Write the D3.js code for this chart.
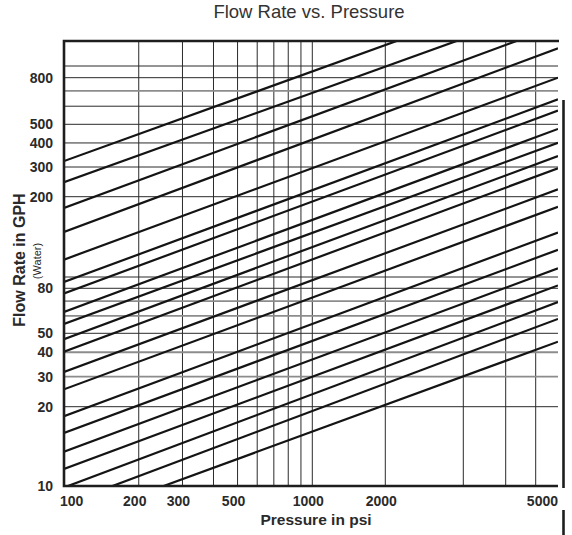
<!DOCTYPE html>
<html>
<head>
<meta charset="utf-8">
<script src="https://cdn.jsdelivr.net/npm/d3@7"></script>
<style>
    body { margin: 0; background: #fff; }
    svg { display: block; font-family: Arial, "Liberation Sans", sans-serif; }
    .tick-label { font-weight: bold; font-size: 14px; fill: #2a2a2a; }
</style>
</head>
<body>
<script>
// flow (GPH) of each curve read at the left edge (100 psi) and at the right edge (6000 psi)
var flow_at_100 = [322, 244, 179, 141, 107, 85.4, 75.8, 62.5, 55.1, 46.7, 40.3, 31.7,
                   25.3, 18.4, 15.9, 13.5, 11.6, 9.87, 8.53, 7.27];
var flow_at_6000 = [2262, 1777, 1406, 1095, 800, 643, 574, 473, 401, 342, 295, 221,
                    181, 140, 118, 98.1, 82.4, 69.3, 58.1, 45.3];

var x_grid = [200, 300, 400, 500, 600, 700, 800, 900, 1000, 2000, 3000, 4000, 5000];
var y_grid_dark = [20, 50, 80, 90, 200, 300, 400, 500, 600, 800, 900];
var y_grid_gray = [30, 40, 60, 70, 700];

var x_ticks = [100, 200, 300, 500, 1000, 2000, 5000];
var y_ticks = [10, 20, 30, 40, 50, 80, 200, 300, 400, 500, 800];

var width = 572, height = 535;
// note: "top" is taken by window.top, so the box edges get a prefix
var box_left = 64, box_right = 558, box_top = 41, box_bottom = 486;

// the printed chart is only roughly logarithmic, so the scales are piecewise on log10
var x_log = d3.scaleLinear()
    .domain([100, 1000, 2000, 3000, 4000, 5000, 6000].map(Math.log10))
    .range([box_left, 312.3, 385.3, 463.3, 505.7, 535.7, box_right]);
var y_log = d3.scaleLinear()
    .domain([10, 20, 30, 50, 90, 200, 300, 500, 900, 1200].map(Math.log10))
    .range([box_bottom, 406.7, 376.7, 333.3, 277, 196.7, 167, 124.3, 66, box_top - 1]);
function x(v) { return x_log(Math.log10(v)); }
function y(v) { return y_log(Math.log10(v)); }

var svg = d3.select("body").append("svg")
    .attr("width", width)
    .attr("height", height);

svg.append("defs").append("clipPath").attr("id", "plot-clip")
    .append("rect")
    .attr("x", box_left).attr("y", box_top)
    .attr("width", box_right - box_left).attr("height", box_bottom - box_top);

// grid
svg.append("g").selectAll("line").data(x_grid).enter().append("line")
    .attr("x1", function(d) { return x(d); })
    .attr("x2", function(d) { return x(d); })
    .attr("y1", box_top).attr("y2", box_bottom)
    .attr("stroke", "#2b2b2b").attr("stroke-width", 1);

svg.append("g").selectAll("line").data(y_grid_dark).enter().append("line")
    .attr("x1", box_left).attr("x2", box_right)
    .attr("y1", function(d) { return y(d); })
    .attr("y2", function(d) { return y(d); })
    .attr("stroke", "#2b2b2b").attr("stroke-width", 1);

svg.append("g").selectAll("line").data(y_grid_gray).enter().append("line")
    .attr("x1", box_left).attr("x2", box_right)
    .attr("y1", function(d) { return y(d); })
    .attr("y2", function(d) { return y(d); })
    .attr("stroke", "#8c8c8c").attr("stroke-width", 1.8);

// flow curves, straight on this paper, clipped to the plot box
var curves = flow_at_100.map(function(f, i) {
    return [[100, f], [6000, flow_at_6000[i]]];
});
var line = d3.line()
    .x(function(d) { return x(d[0]); })
    .y(function(d) { return y(d[1]); });

svg.append("g").attr("clip-path", "url(#plot-clip)")
    .selectAll("path").data(curves).enter().append("path")
    .attr("d", line)
    .attr("fill", "none")
    .attr("stroke", "#141414")
    .attr("stroke-width", 2.2);

// frame: heavy left, bottom and top edges
svg.append("path")
    .attr("d", "M" + (box_right + 1) + "," + box_top + "H" + box_left + "V" + box_bottom + "H" + box_right)
    .attr("fill", "none")
    .attr("stroke", "#1e1e1e")
    .attr("stroke-width", 2.6);

// the stray bar on the right hand side of the original
svg.append("g").selectAll("line").data([[100, 488], [510, 535]]).enter().append("line")
    .attr("x1", 563.5).attr("x2", 563.5)
    .attr("y1", function(d) { return d[0]; })
    .attr("y2", function(d) { return d[1]; })
    .attr("stroke", "#1e1e1e").attr("stroke-width", 2.6);

// tick labels
svg.append("g").selectAll("text").data(x_ticks).enter().append("text")
    .attr("class", "tick-label")
    .attr("x", function(d, i) {
        if (i === 0) return x(d) - 4;
        if (i === x_ticks.length - 1) return box_right;
        return x(d) - 4;
    })
    .attr("y", 506)
    .attr("text-anchor", function(d, i) {
        if (i === 0) return "start";
        if (i === x_ticks.length - 1) return "end";
        return "middle";
    })
    .text(function(d) { return d; });

svg.append("g").selectAll("text").data(y_ticks).enter().append("text")
    .attr("class", "tick-label")
    .attr("x", 53)
    .attr("y", function(d) { return y(d); })
    .attr("dy", "0.36em")
    .attr("text-anchor", "end")
    .text(function(d) { return d; });

// titles
svg.append("text")
    .attr("x", 309).attr("y", 18)
    .attr("text-anchor", "middle")
    .style("font-size", "18.5px")
    .style("fill", "#333")
    .text("Flow Rate vs. Pressure");

svg.append("text")
    .attr("x", 316).attr("y", 525)
    .attr("text-anchor", "middle")
    .style("font-size", "15.5px")
    .style("font-weight", "bold")
    .style("fill", "#2a2a2a")
    .text("Pressure in psi");

svg.append("text")
    .attr("transform", "translate(25,260) rotate(-90)")
    .attr("text-anchor", "middle")
    .style("font-size", "16px")
    .style("font-weight", "bold")
    .style("fill", "#2a2a2a")
    .text("Flow Rate in GPH");

svg.append("text")
    .attr("transform", "translate(41,261) rotate(-90)")
    .attr("text-anchor", "middle")
    .style("font-size", "11px")
    .style("fill", "#2a2a2a")
    .text("(Water)");
</script>
</body>
</html>
